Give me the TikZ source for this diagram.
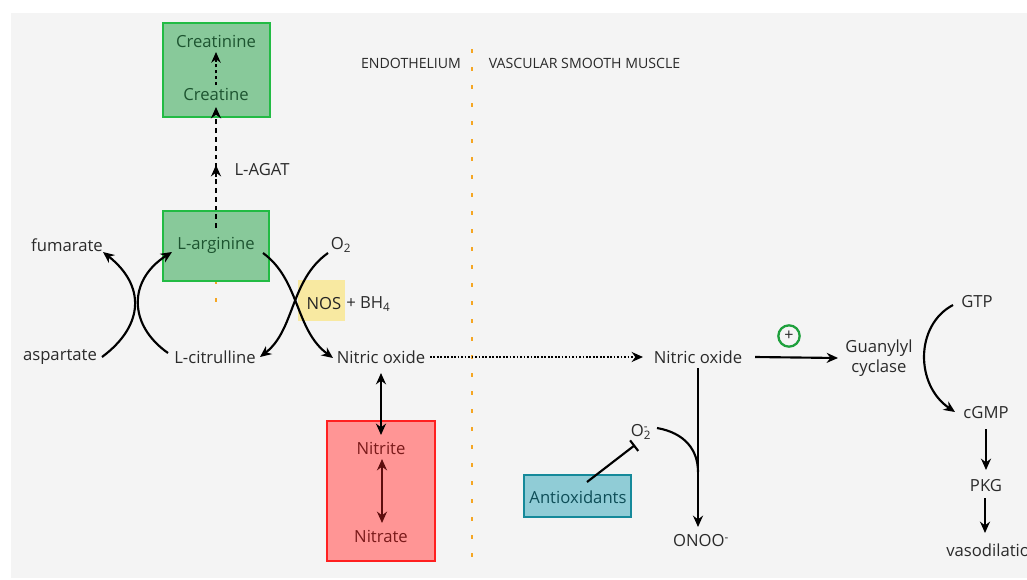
\documentclass[tikz,border=0pt]{standalone}
\usepackage{fontspec}
\setmainfont{Open Sans}
\usetikzlibrary{arrows.meta}
\definecolor{bg}{HTML}{F4F4F4}
\definecolor{txt}{HTML}{2A2A2A}
\definecolor{gfill}{HTML}{88C99A}
\definecolor{gline}{HTML}{22BB44}
\definecolor{gtext}{HTML}{1D5430}
\definecolor{rfill}{HTML}{FF9595}
\definecolor{rline}{HTML}{FF2020}
\definecolor{rtext}{HTML}{7A1A1A}
\definecolor{rarrow}{HTML}{5E0E0E}
\definecolor{tfill}{HTML}{90CCD6}
\definecolor{tline}{HTML}{15899A}
\definecolor{ttext}{HTML}{0E4E58}
\definecolor{hl}{HTML}{F8E9A1}
\definecolor{orng}{HTML}{F5A623}
\definecolor{pgreen}{HTML}{1EA03C}
\begin{document}
\begin{tikzpicture}[x=0.75pt,y=-0.75pt,
  lbl/.style={font=\fontsize{12.5}{14}\selectfont, text=txt, inner sep=0pt},
  hdr/.style={font=\fontsize{10.6}{12}\selectfont, text=txt, inner sep=0pt},
  boxg/.style={draw=gline, fill=gfill, line width=2.2pt, inner sep=0pt},
  boxr/.style={draw=rline, fill=rfill, line width=2.2pt, inner sep=0pt},
  boxt/.style={draw=tline, fill=tfill, line width=2pt, inner sep=0pt},
  tip/.style={},
  arr/.style={line width=1.6pt, draw=black, -{Stealth[length=8.5pt,width=7.5pt]}},
  darr/.style={line width=1.6pt, draw=black, {Stealth[length=8.5pt,width=7.5pt]}-{Stealth[length=8.5pt,width=7.5pt]}},
  dasharr/.style={line width=1.9pt, draw=black, dash pattern=on 3.6pt off 3pt, -{Stealth[length=8.5pt,width=7.5pt]}},
  dotarr/.style={line width=1.7pt, draw=black, dash pattern=on 2.2pt off 2.2pt, -{Stealth[length=8pt,width=7pt]}},
  fineline/.style={line width=1.6pt, draw=black, dash pattern=on 1.3pt off 1.3pt, -{Stealth[length=8.5pt,width=7.5pt]}},
  sep/.style={draw=orng, line width=2.2pt, dash pattern=on 3pt off 10.5pt}
]
\useasboundingbox (0,0) rectangle (1027,579);
\clip (0,0) rectangle (1027,579);
\fill[white] (0,0) rectangle (1027,579);
\fill[bg] (11,13) rectangle (1027,578);

% separator
\draw[sep] (472,49) -- (472,560);
\draw[sep] (216,280) -- (216,302);

% boxes
\node[boxg, minimum width=80.25pt, minimum height=70.5pt] (cbox) at (216.5,70) {};
\node[boxg, minimum width=79.5pt, minimum height=52.5pt] (abox) at (216,246) {};
\node[boxr, minimum width=81pt, minimum height=105pt] (rbox) at (381,491) {};
\node[boxt, minimum width=80.25pt, minimum height=31.5pt] (tbox) at (577.5,496) {};
\fill[hl] (298,280) rectangle (345,321);

% headers
\node[hdr] (endo) at (411,63) {ENDOTHELIUM};
\node[hdr] (vsm) at (584.5,63) {VASCULAR SMOOTH MUSCLE};

% labels
\node[lbl, text=gtext] (creatinine) at (216,41) {Creatinine};
\node[lbl, text=gtext] (creatine) at (216,94) {Creatine};
\node[lbl] (lagat) at (262,170) {L-AGAT};
\node[lbl, text=gtext] (larg) at (216,245) {L-arginine};
\node[lbl] (fum) at (67,245) {fumarate};
\node[lbl] (asp) at (60,357) {aspartate};
\node[lbl] (lcit) at (215,357) {L-citrulline};
\node[lbl] (o2) at (341,245) {O\textsubscript{2}};
\node[lbl, text=txt!85!black] (nos) at (324,304) {NOS};
\node[lbl, anchor=west] (bh4) at (346,304) {+ BH\textsubscript{4}};
\node[lbl] (no1) at (381,357) {Nitric oxide};
\node[lbl, text=rtext] (nitrite) at (381,448) {Nitrite};
\node[lbl, text=rtext] (nitrate) at (381,536) {Nitrate};
\node[lbl] (no2) at (698,357) {Nitric oxide};
\node[lbl, align=center, font=\fontsize{12.5}{15}\selectfont] (gc) at (879,358) {Guanylyl\\cyclase};
\node[lbl] (gtp) at (977,302) {GTP};
\node[lbl] (cgmp) at (986,413) {cGMP};
\node[lbl] (pkg) at (986,486) {PKG};
\node[lbl, anchor=west] (vaso) at (946,550) {vasodilation};
\node[lbl] (onoo) at (701,541) {ONOO\textsuperscript{-}};
\node[lbl] (o2m) at (641,432) {O\rlap{\textsuperscript{-}}\textsubscript{2}};
\node[lbl, text=ttext] (antiox) at (578,497) {Antioxidants};
\node[circle, draw=pgreen, line width=1.7pt, minimum size=16pt, inner sep=0pt,
      font=\fontsize{12}{12}\selectfont, text=txt] (plus) at (789,336) {+};

% connectors
\draw[dotarr] ([shift={(0,-9)}]creatine.center) -- ([shift={(0,11)}]creatinine.center);
\draw[dasharr] ([shift={(0,-17)}]larg.center) -- ([shift={(-46,-5)}]lagat.center);
\draw[dasharr] ([shift={(-46,7)}]lagat.center) -- ([shift={(0,13)}]creatine.center);

\draw[arr] ([shift={(42,0)}]asp.center) .. controls (145,325) and (145,285) .. ([shift={(36,7)}]fum.center);
\draw[arr] ([shift={(-47,-4)}]lcit.center) .. controls (128,325) and (128,280) .. ([shift={(-44,7)}]larg.center);
\draw[arr] ([shift={(47,8)}]larg.center) .. controls (300,280) and (295,330) .. ([shift={(-48,1)}]no1.center);
\draw[arr] ([shift={(-13,8)}]o2.center) .. controls (290,280) and (295,330) .. ([shift={(45,0)}]lcit.center);

\draw[fineline] ([shift={(49,0)}]no1.center) -- ([shift={(-55,0)}]no2.center);
\draw[darr] ([shift={(0,16)}]no1.center) -- ([shift={(0,-13)}]nitrite.center);
\draw[darr, draw=rarrow] ([shift={(1,11)}]nitrite.center) -- ([shift={(1,-13)}]nitrate.center);

\draw[arr] ([shift={(57,0)}]no2.center) -- ([shift={(-41,0)}]gc.center);
\draw[arr] ([shift={(0,11)}]no2.center) -- ([shift={(-3,-14)}]onoo.center);
\draw[line width=1.6pt] ([shift={(16,-4)}]o2m.center) .. controls (685,433) and (698,450) .. (698,472);
\draw[line width=1.6pt, -{Bar[width=10pt,line width=1.6pt]}] ([shift={(9,-15)}]antiox.center) -- ([shift={(-6,13)}]o2m.center);

\draw[arr] ([shift={(-24,3)}]gtp.center) .. controls (915,325) and (915,385) .. ([shift={(-31,-1)}]cgmp.center);
\draw[arr] ([shift={(0,16)}]cgmp.center) -- ([shift={(0,-16)}]pkg.center);
\draw[arr] ([shift={(-1,12)}]pkg.center) -- ([shift={(-1,47)}]pkg.center);
\end{tikzpicture}
\end{document}
